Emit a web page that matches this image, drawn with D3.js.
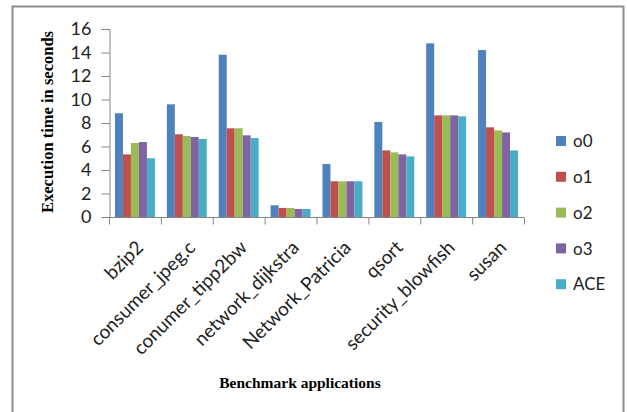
<!DOCTYPE html>
<html>
<head>
<meta charset="utf-8">
<script src="https://cdn.jsdelivr.net/npm/d3@7"></script>
<style>
  html, body { margin: 0; padding: 0; background: #fff; }
  svg { display: block; }
</style>
</head>
<body>
<svg id="chart" width="627" height="412"></svg>
<script>
// Benchmarks and execution times (seconds) per optimisation level
const categories = ["bzip2", "consumer_jpeg.c", "conumer_tipp2bw", "network_dijkstra",
                    "Network_Patricia", "qsort", "security_blowfish", "susan"];
const seriesNames = ["o0", "o1", "o2", "o3", "ACE"];
const o0  = [8.83, 9.59, 13.81, 1.00, 4.51, 8.09, 14.78, 14.21];
const o1  = [5.33, 7.04, 7.55, 0.77, 3.04, 5.67, 8.65, 7.63];
const o2  = [6.30, 6.89, 7.55, 0.77, 3.04, 5.50, 8.65, 7.37];
const o3  = [6.38, 6.81, 6.95, 0.68, 3.04, 5.33, 8.65, 7.20];
const ace = [5.00, 6.64, 6.72, 0.68, 3.04, 5.16, 8.57, 5.67];
const yTicks = [0, 2, 4, 6, 8, 10, 12, 14, 16];
const colors = ["#4f81bd", "#c0504d", "#9bbb59", "#8064a2", "#4bacc6"];

const seriesValues = [o0, o1, o2, o3, ace];

const svg = d3.select("#chart");
const axisColor = "#868686";
const labelFont = "Lato, 'Open Sans', sans-serif";
const titleFont = "'Liberation Serif', 'Times New Roman', serif";

// Outer chart frame
svg.append("rect")
  .attr("x", 12.5).attr("y", 6.5)
  .attr("width", 611).attr("height", 430)
  .attr("fill", "none").attr("stroke", "#8c8c8c").attr("stroke-width", 2);

const plot = { left: 109, right: 524, top: 29, bottom: 217 };

const x0 = d3.scaleBand().domain(categories).range([plot.left, plot.right])
  .paddingInner(0.23).paddingOuter(0.115);
const x1 = d3.scaleBand().domain(seriesNames).range([0, x0.bandwidth()]);
const y = d3.scaleLinear().domain([0, 16]).range([plot.bottom, plot.top]);

// Bars
const groups = svg.append("g").selectAll("g")
  .data(categories)
  .join("g")
  .attr("transform", c => `translate(${x0(c)},0)`);

groups.selectAll("rect")
  .data((c, i) => seriesNames.map((s, k) => ({ s, v: seriesValues[k][i], k })))
  .join("rect")
  .attr("x", d => x1(d.s))
  .attr("width", x1.bandwidth())
  .attr("y", d => y(d.v))
  .attr("height", d => y(0) - y(d.v))
  .attr("fill", d => colors[d.k]);

// Y axis
const yAxis = svg.append("g")
  .attr("transform", `translate(${plot.left + 0.5},0)`)
  .call(d3.axisLeft(y).tickValues(yTicks).tickSize(8).tickPadding(10));
yAxis.select(".domain").attr("stroke", axisColor);
yAxis.selectAll(".tick line").attr("stroke", axisColor);
yAxis.selectAll(".tick text")
  .attr("fill", "#222").style("font-family", labelFont).style("font-size", "18px");

// X axis with boundary tick marks between categories
const xAxisG = svg.append("g").attr("transform", `translate(0,${plot.bottom + 0.5})`);
xAxisG.append("line")
  .attr("x1", plot.left).attr("x2", plot.right)
  .attr("stroke", axisColor);
const step = (plot.right - plot.left) / categories.length;
xAxisG.selectAll("line.tk")
  .data(d3.range(categories.length + 1))
  .join("line").attr("class", "tk")
  .attr("x1", i => plot.left + i * step + 0.5).attr("x2", i => plot.left + i * step + 0.5)
  .attr("y1", 0).attr("y2", 7)
  .attr("stroke", axisColor);

// Rotated category labels
svg.append("g").selectAll("text")
  .data(categories)
  .join("text")
  .attr("transform", c => `translate(${x0(c) + x0.bandwidth() / 2 + 5},${plot.bottom + 27}) rotate(-45)`)
  .attr("text-anchor", "end")
  .attr("dy", "0.35em")
  .attr("fill", "#222")
  .style("font-family", labelFont)
  .style("font-size", "19px")
  .text(c => c);

// Axis titles
svg.append("text")
  .attr("transform", `translate(53,122) rotate(-90)`)
  .attr("text-anchor", "middle")
  .style("font-family", titleFont)
  .style("font-weight", "bold")
  .style("font-size", "16.5px")
  .text("Execution time in seconds");

svg.append("text")
  .attr("x", 300).attr("y", 388)
  .attr("text-anchor", "middle")
  .style("font-family", titleFont)
  .style("font-weight", "bold")
  .style("font-size", "15.5px")
  .text("Benchmark applications");

// Legend
const legend = svg.append("g").selectAll("g")
  .data(seriesNames)
  .join("g")
  .attr("transform", (s, i) => `translate(556,${141 + i * 35.8})`);
legend.append("rect")
  .attr("x", 0).attr("y", -5).attr("width", 10).attr("height", 10)
  .attr("fill", (s, i) => colors[i]);
legend.append("text")
  .attr("x", 17).attr("dy", "0.36em")
  .attr("fill", "#222")
  .style("font-family", labelFont)
  .style("font-size", "17px")
  .text(s => s);
</script>
</body>
</html>
